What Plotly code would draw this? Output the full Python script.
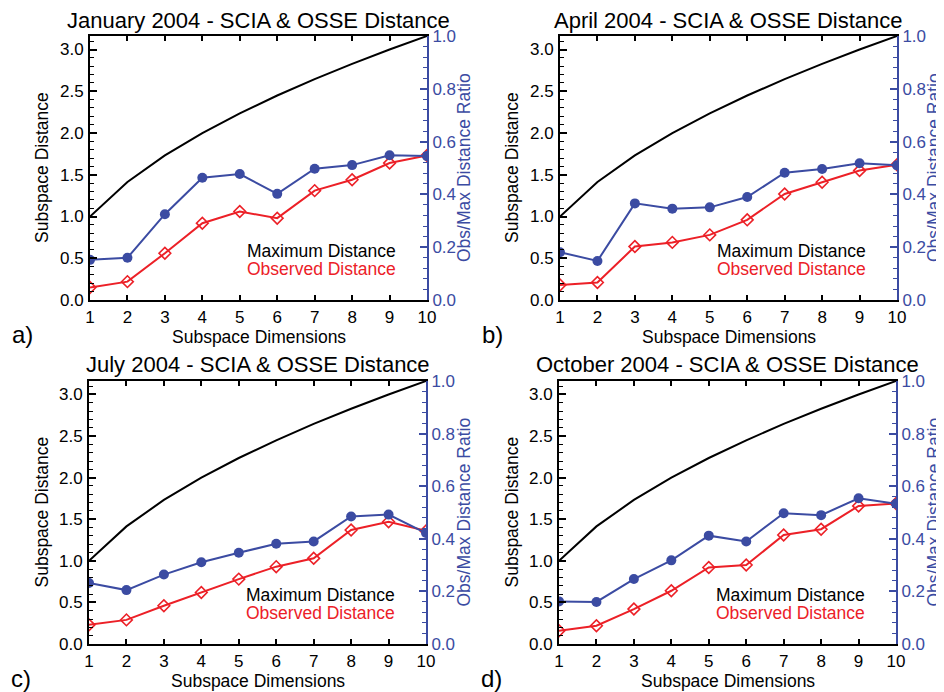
import plotly.graph_objects as go

dims = [1, 2, 3, 4, 5, 6, 7, 8, 9, 10]
max_distance = [1.0, 1.414, 1.732, 2.0, 2.236, 2.449, 2.646, 2.828, 3.0, 3.162]

titles = ["January 2004 - SCIA & OSSE Distance", "April 2004 - SCIA & OSSE Distance",
          "July 2004 - SCIA & OSSE Distance", "October 2004 - SCIA & OSSE Distance"]
panel_labels = ["a)", "b)", "c)", "d)"]

obs_jan = [0.15, 0.22, 0.56, 0.92, 1.06, 0.98, 1.31, 1.44, 1.64, 1.73]
ratio_jan = [0.152, 0.160, 0.325, 0.463, 0.477, 0.402, 0.497, 0.511, 0.548, 0.545]
obs_apr = [0.18, 0.21, 0.64, 0.69, 0.78, 0.96, 1.27, 1.41, 1.55, 1.62]
ratio_apr = [0.181, 0.148, 0.366, 0.346, 0.351, 0.390, 0.482, 0.496, 0.518, 0.510]
obs_jul = [0.23, 0.29, 0.46, 0.62, 0.78, 0.93, 1.03, 1.37, 1.47, 1.36]
ratio_jul = [0.232, 0.205, 0.264, 0.311, 0.347, 0.381, 0.390, 0.485, 0.492, 0.422]
obs_oct = [0.16, 0.22, 0.42, 0.64, 0.92, 0.95, 1.31, 1.38, 1.66, 1.69]
ratio_oct = [0.162, 0.160, 0.247, 0.318, 0.412, 0.390, 0.497, 0.490, 0.554, 0.533]

observed = [obs_jan, obs_apr, obs_jul, obs_oct]
ratios = [ratio_jan, ratio_apr, ratio_jul, ratio_oct]

left_ticks = [0.0, 0.5, 1.0, 1.5, 2.0, 2.5, 3.0]
right_ticks = [0.0, 0.2, 0.4, 0.6, 0.8, 1.0]

OFF = 8  # default page body margin
W, H = 944 - OFF, 692 - OFF
RED = "#ec2027"
BLUE = "#3b4ba2"
FONT = "Liberation Sans, Arial, Helvetica, sans-serif"

# plot-area boxes in page pixels: (left, right, top, bottom)
boxes = [(90, 427, 36, 300), (560, 897, 36, 300), (89, 426, 381, 644), (559, 896, 381, 644)]


def px(x):
    return (x - OFF) / W


def py(y):
    return 1 - (y - OFF) / H


fig = go.Figure()
layout = dict(
    width=W, height=H, margin=dict(l=0, r=0, t=0, b=0, autoexpand=False),
    paper_bgcolor="white", plot_bgcolor="white", showlegend=False,
    font=dict(family=FONT, size=17, color="black"),
)
annotations = []

for k in range(4):
    l, r, t, b = boxes[k]
    xs = "" if k == 0 else str(k + 1)
    yl = "" if k == 0 else str(2 * k + 1)
    yr = str(2 * k + 2)
    xref, ylref, yrref = "x" + xs, "y" + yl, "y" + yr

    fig.add_trace(go.Scatter(x=dims, y=max_distance, mode="lines",
                             line=dict(color="black", width=2), xaxis=xref, yaxis=ylref))
    fig.add_trace(go.Scatter(x=dims, y=observed[k], mode="lines+markers",
                             line=dict(color=RED, width=2),
                             marker=dict(symbol="diamond-open", size=9, color=RED,
                                         line=dict(width=1.6, color=RED)),
                             xaxis=xref, yaxis=ylref))
    fig.add_trace(go.Scatter(x=dims, y=ratios[k], mode="lines+markers",
                             line=dict(color=BLUE, width=2),
                             marker=dict(symbol="circle", size=10, color=BLUE),
                             xaxis=xref, yaxis=yrref))

    layout["xaxis" + xs] = dict(
        domain=[px(l), px(r)], anchor=ylref, range=[1, 10], automargin=False,
        tickvals=dims, ticktext=[str(d) for d in dims],
        ticks="inside", ticklen=5, tickwidth=1.5, tickcolor="black",
        showline=True, linecolor="black", linewidth=2, mirror="ticks",
        showgrid=False, zeroline=False, tickfont=dict(size=17, color="black"),
        ticklabelstandoff=1,
    )
    layout["yaxis" + yl] = dict(
        domain=[py(b), py(t)], anchor=xref, range=[0, max_distance[-1]], automargin=False,
        tickvals=left_ticks, ticktext=["%.1f" % v for v in left_ticks],
        ticks="inside", ticklen=7, tickwidth=1.5, tickcolor="black",
        minor=dict(dtick=0.1, tick0=0, ticks="inside", ticklen=4, tickwidth=1.2, tickcolor="black"),
        showline=True, linecolor="black", linewidth=2, mirror=False,
        showgrid=False, zeroline=False, tickfont=dict(size=17, color="black"),
        ticklabelstandoff=1,
    )
    layout["yaxis" + yr] = dict(
        domain=[py(b), py(t)], anchor=xref, overlaying=ylref, side="right", range=[0, 1],
        automargin=False,
        tickvals=right_ticks, ticktext=["%.1f" % v for v in right_ticks],
        ticks="inside", ticklen=7, tickwidth=1.5, tickcolor=BLUE,
        minor=dict(dtick=0.04, tick0=0, ticks="inside", ticklen=4, tickwidth=1.2, tickcolor=BLUE),
        showline=True, linecolor=BLUE, linewidth=2,
        showgrid=False, zeroline=False, tickfont=dict(size=17, color=BLUE),
        ticklabelstandoff=0,
    )

    cx = (l + r) / 2
    cy = (t + b) / 2
    annotations += [
        dict(text=titles[k], x=px(cx), y=py(t - 16), xref="paper", yref="paper",
             xanchor="center", yanchor="middle", showarrow=False,
             font=dict(size=22, color="black")),
        dict(text="Subspace Dimensions", x=px(cx), y=py(b + 37), xref="paper", yref="paper",
             xanchor="center", yanchor="middle", showarrow=False,
             font=dict(size=17.5, color="black")),
        dict(text="Subspace Distance", x=px(l - 48), y=py(cy), xref="paper", yref="paper",
             xanchor="center", yanchor="middle", textangle=-90, showarrow=False,
             font=dict(size=17.5, color="black")),
        dict(text="Obs/Max Distance Ratio", x=px(r + 37), y=py(cy), xref="paper", yref="paper",
             xanchor="center", yanchor="middle", textangle=-90, showarrow=False,
             font=dict(size=17.5, color=BLUE)),
        dict(text="Maximum Distance", x=px(r - 29), y=py(b - 49), xref="paper", yref="paper",
             xanchor="right", yanchor="middle", showarrow=False,
             font=dict(size=17.5, color="black")),
        dict(text="Observed Distance", x=px(r - 29), y=py(b - 31), xref="paper", yref="paper",
             xanchor="right", yanchor="middle", showarrow=False,
             font=dict(size=17.5, color=RED)),
        dict(text=panel_labels[k], x=px(l - 68), y=py(b + 34), xref="paper", yref="paper",
             xanchor="center", yanchor="middle", showarrow=False,
             font=dict(size=24, color="black")),
    ]

layout["annotations"] = annotations
fig.update_layout(**layout)
fig.write_html("out.html")
